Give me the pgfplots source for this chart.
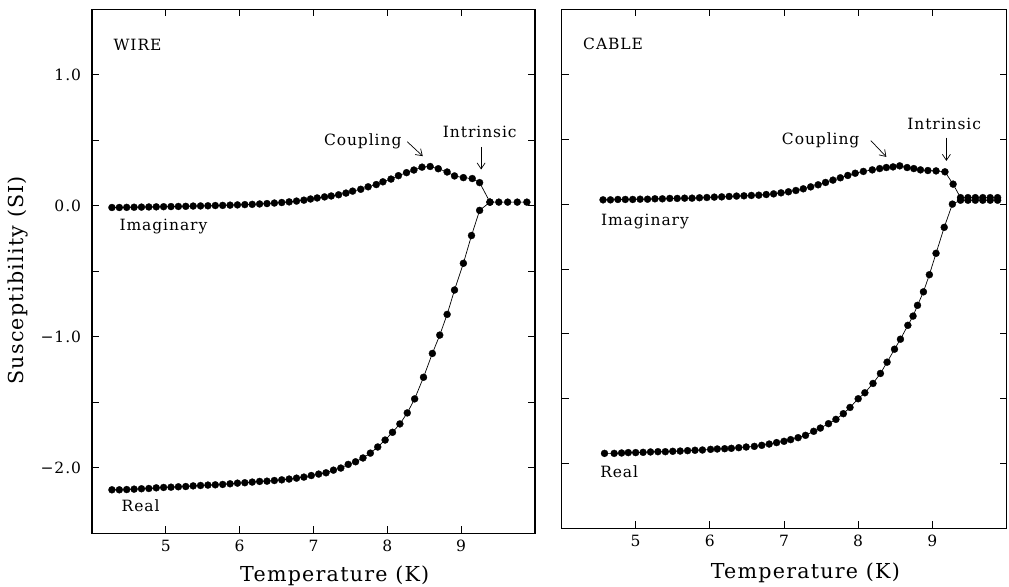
\documentclass[border=0pt]{standalone}
\usepackage{fontspec}
\setmainfont{DejaVu Serif}[LetterSpace=6]
\usepackage{pgfplots}
\pgfplotsset{compat=1.18}
\usetikzlibrary{arrows.meta}
\newcommand{\ticksize}{\fontsize{15.5bp}{17bp}\selectfont}
\newcommand{\annsize}{\fontsize{15.5bp}{17bp}\selectfont}
\newcommand{\labsize}{\fontsize{20.6bp}{24bp}\selectfont}
\tikzset{arr/.style={-{Straight Barb[length=6bp,width=8bp]}, line width=0.7bp, black}}
\pgfplotsset{
  panel/.style={
    scale only axis,
    xmin=4, xmax=10, ymin=-2.5, ymax=1.5,
    xtick={5,6,7,8,9}, xticklabels={5,6,7,8,9},
    ytick={-2.5,-2,-1.5,-1,-0.5,0,0.5,1,1.5},
    major tick length=7bp,
    axis line style={line width=1.2bp},
    every tick/.style={line width=0.8bp, black},
    tick label style={font=\ticksize},
    xticklabel shift=3bp,
    yticklabel shift=7.5bp,
    label style={font=\labsize},
    clip=false,
  },
  curve/.style={black, line width=0.7bp, mark=*, mark size=3.5bp, mark options={line width=0.3bp, fill=black}},
}
\pgfplotstableread{
x y
4.27 -0.013
4.37 -0.013
4.47 -0.012
4.57 -0.011
4.67 -0.010
4.77 -0.009
4.87 -0.008
4.97 -0.007
5.07 -0.006
5.17 -0.005
5.27 -0.004
5.37 -0.002
5.47 -0.001
5.57 0.000
5.67 0.002
5.77 0.003
5.87 0.005
5.97 0.007
6.07 0.009
6.17 0.011
6.27 0.014
6.37 0.017
6.47 0.021
6.57 0.025
6.67 0.030
6.77 0.036
6.87 0.043
6.96 0.052
7.05 0.060
7.15 0.068
7.24 0.075
7.34 0.084
7.44 0.097
7.53 0.112
7.64 0.126
7.74 0.145
7.85 0.162
7.94 0.183
8.05 0.204
8.15 0.230
8.26 0.253
8.36 0.273
8.47 0.295
8.58 0.300
8.69 0.283
8.81 0.258
8.91 0.228
9.03 0.215
9.15 0.208
9.25 0.177
9.39 0.028
9.51 0.028
9.63 0.028
9.76 0.028
9.89 0.028
}\wireimag
\pgfplotstableread{
x y
4.27 -2.168
4.37 -2.168
4.47 -2.166
4.57 -2.163
4.67 -2.160
4.77 -2.158
4.87 -2.153
4.97 -2.150
5.07 -2.148
5.17 -2.145
5.27 -2.143
5.37 -2.138
5.47 -2.135
5.57 -2.132
5.67 -2.130
5.77 -2.127
5.87 -2.122
5.97 -2.117
6.07 -2.114
6.17 -2.109
6.27 -2.104
6.37 -2.102
6.47 -2.097
6.57 -2.092
6.67 -2.086
6.77 -2.079
6.87 -2.071
6.97 -2.059
7.07 -2.048
7.17 -2.038
7.27 -2.018
7.37 -2.002
7.47 -1.974
7.57 -1.954
7.67 -1.925
7.77 -1.888
7.87 -1.841
7.97 -1.788
8.07 -1.729
8.17 -1.665
8.27 -1.581
8.37 -1.474
8.49 -1.309
8.61 -1.127
8.71 -0.987
8.81 -0.829
8.91 -0.643
9.03 -0.439
9.14 -0.227
9.25 -0.035
9.39 0.028
}\wirereal
\pgfplotstableread{
x y
4.56 0.033
4.66 0.033
4.76 0.036
4.86 0.036
4.96 0.036
5.06 0.038
5.16 0.038
5.26 0.041
5.36 0.041
5.46 0.044
5.56 0.044
5.66 0.046
5.76 0.046
5.86 0.049
5.96 0.051
6.06 0.054
6.16 0.056
6.26 0.059
6.36 0.062
6.46 0.064
6.56 0.067
6.66 0.069
6.76 0.074
6.86 0.079
6.96 0.087
7.06 0.095
7.16 0.105
7.26 0.118
7.36 0.133
7.46 0.149
7.56 0.167
7.66 0.185
7.76 0.203
7.86 0.221
7.96 0.238
8.07 0.252
8.19 0.264
8.29 0.274
8.38 0.282
8.47 0.287
8.56 0.295
8.66 0.282
8.75 0.274
8.84 0.264
8.94 0.259
9.05 0.256
9.17 0.249
9.28 0.154
9.38 0.050
9.48 0.050
9.58 0.050
9.68 0.050
9.78 0.050
9.88 0.050
}\cableimag
\pgfplotstableread{
x y
4.58 -1.921
4.71 -1.921
4.81 -1.918
4.90 -1.915
5.00 -1.915
5.10 -1.913
5.20 -1.910
5.30 -1.908
5.40 -1.908
5.50 -1.905
5.60 -1.903
5.70 -1.900
5.80 -1.897
5.90 -1.895
6.01 -1.890
6.10 -1.887
6.20 -1.885
6.29 -1.882
6.39 -1.877
6.49 -1.872
6.60 -1.867
6.70 -1.859
6.80 -1.849
6.90 -1.838
7.00 -1.828
7.09 -1.815
7.19 -1.800
7.29 -1.782
7.40 -1.751
7.49 -1.726
7.60 -1.692
7.70 -1.659
7.80 -1.615
7.89 -1.567
8.00 -1.500
8.09 -1.454
8.20 -1.382
8.30 -1.305
8.39 -1.218
8.49 -1.118
8.57 -1.041
8.67 -0.934
8.74 -0.863
8.80 -0.780
8.88 -0.676
8.96 -0.544
9.05 -0.379
9.16 -0.179
9.27 0.000
9.38 0.030
9.48 0.030
9.58 0.030
9.68 0.030
9.78 0.030
9.88 0.030
}\cablereal
\begin{document}
\begin{tikzpicture}
\useasboundingbox (0bp,0bp) rectangle (1009bp,587bp);
% ---------- WIRE ----------
\begin{axis}[panel,
  at={(92bp,53.7bp)}, anchor=south west,
  width=443bp, height=524bp,
  yticklabels={,−2.0,,−1.0,,0.0,,1.0,},
  xlabel={Temperature (K)},
  xlabel style={at={(axis description cs:0.548,-0.0924)}, anchor=base},
  ylabel={Susceptibility (SI)},
  ylabel style={at={(axis description cs:-0.1546,0.483)}, anchor=base},
]
\addplot[curve] table {\wireimag};
\addplot[curve] table {\wirereal};
\node[anchor=base west, font=\annsize, inner sep=0pt] at (axis cs:4.29,1.183) {WIRE};
\node[anchor=base west, font=\annsize, inner sep=0pt] at (axis cs:7.14,0.458) {Coupling};
\node[anchor=base west, font=\annsize, inner sep=0pt] at (axis cs:8.75,0.521) {Intrinsic};
\node[anchor=base west, font=\annsize, inner sep=0pt] at (axis cs:4.37,-0.191) {Imaginary};
\node[anchor=base west, font=\annsize, inner sep=0pt] at (axis cs:4.40,-2.334) {Real};
\draw[arr] (axis cs:8.27,0.489) -- (axis cs:8.48,0.379);
\draw[arr] (axis cs:9.27,0.45) -- (axis cs:9.27,0.277);
\end{axis}
% ---------- CABLE ----------
\begin{axis}[panel,
  at={(561.5bp,58.5bp)}, anchor=south west,
  width=445bp, height=519bp,
  yticklabels={},
  xlabel={Temperature (K)},
  xlabel style={at={(axis description cs:0.548,-0.096)}, anchor=base},
]
\addplot[curve] table {\cableimag};
\addplot[curve] table {\cablereal};
\node[anchor=base west, font=\annsize, inner sep=0pt] at (axis cs:4.29,1.192) {CABLE};
\node[anchor=base west, font=\annsize, inner sep=0pt] at (axis cs:6.97,0.456) {Coupling};
\node[anchor=base west, font=\annsize, inner sep=0pt] at (axis cs:8.66,0.572) {Intrinsic};
\node[anchor=base west, font=\annsize, inner sep=0pt] at (axis cs:4.53,-0.162) {Imaginary};
\node[anchor=base west, font=\annsize, inner sep=0pt] at (axis cs:4.52,-2.11) {Real};
\draw[arr] (axis cs:8.17,0.49) -- (axis cs:8.38,0.364);
\draw[arr] (axis cs:9.19,0.513) -- (axis cs:9.19,0.333);
\end{axis}
\end{tikzpicture}
\end{document}
